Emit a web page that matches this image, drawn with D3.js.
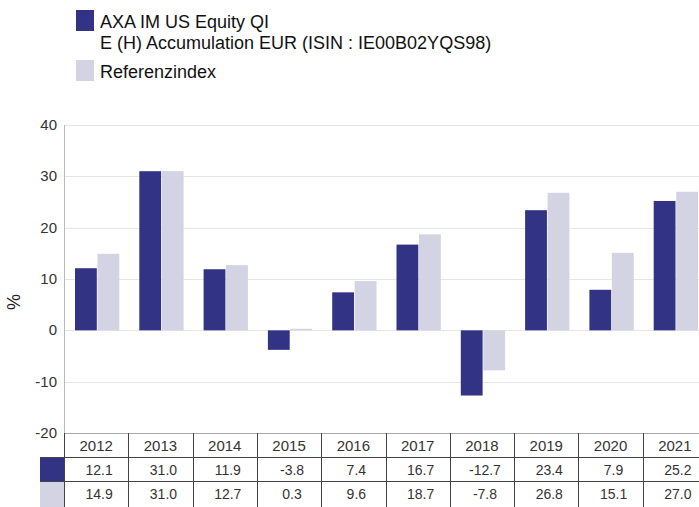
<!DOCTYPE html>
<html>
<head>
<meta charset="utf-8">
<script src="https://cdn.jsdelivr.net/npm/d3@7"></script>
<style>
  body { margin: 0; background: #fff; }
  svg { display: block; font-family: "Liberation Sans", Arial, sans-serif; }
</style>
</head>
<body>
<svg id="chart" width="699" height="507"></svg>
<script>
var years = ["2012", "2013", "2014", "2015", "2016", "2017", "2018", "2019", "2020", "2021"];
var fundValues = [12.1, 31.0, 11.9, -3.8, 7.4, 16.7, -12.7, 23.4, 7.9, 25.2];
var indexValues = [14.9, 31.0, 12.7, 0.3, 9.6, 18.7, -7.8, 26.8, 15.1, 27.0];
var yTicks = [40, 30, 20, 10, 0, -10, -20];
var seriesNames = ["AXA IM US Equity QI|E (H) Accumulation EUR (ISIN : IE00B02YQS98)", "Referenzindex"];

var colors = ["#333385", "#d3d3e3"];

var svg = d3.select("#chart");

var plotLeft = 64, colW = 64.3, plotTop = 125, plotBottom = 433;

var x = d3.scaleBand()
	.domain(years)
	.range([plotLeft, plotLeft + colW * years.length])
	.paddingInner(0)
	.paddingOuter(0);

var y = d3.scaleLinear()
	.domain([-20, 40])
	.range([plotBottom, plotTop]);

var inner = d3.scaleBand()
	.domain([0, 1])
	.range([11, x.bandwidth() - 9])
	.paddingInner(0.03);

// gridlines
svg.append("g")
	.selectAll("line")
	.data(yTicks)
	.join("line")
	.attr("x1", plotLeft)
	.attr("x2", 699)
	.attr("y1", d => Math.round(y(d)) + 0.5)
	.attr("y2", d => Math.round(y(d)) + 0.5)
	.attr("stroke", "#e6e6e6")
	.attr("stroke-width", 1);

// tick labels
svg.append("g")
	.selectAll("text")
	.data(yTicks)
	.join("text")
	.attr("x", 57)
	.attr("y", d => y(d) + 5)
	.attr("text-anchor", "end")
	.attr("font-size", 15)
	.attr("fill", "#333")
	.text(d => d);

svg.append("text")
	.attr("transform", "translate(20,302) rotate(-90)")
	.attr("text-anchor", "middle")
	.attr("font-size", 18)
	.attr("fill", "#222")
	.text("%");

// bars
var series = [fundValues, indexValues];
series.forEach(function(vals, s) {
	svg.append("g")
		.selectAll("rect")
		.data(vals)
		.join("rect")
		.attr("x", (d, i) => x(years[i]) + inner(s))
		.attr("width", inner.bandwidth())
		.attr("y", d => y(Math.max(0, d)))
		.attr("height", d => Math.abs(y(d) - y(0)))
		.attr("fill", colors[s]);
});

// vertical axis line
svg.append("line")
	.attr("x1", plotLeft + 0.5).attr("x2", plotLeft + 0.5)
	.attr("y1", plotTop).attr("y2", plotBottom)
	.attr("stroke", "#bbb");

// table
var rowTop = [433, 457, 481, 507];
var tbl = svg.append("g");

[0, 1].forEach(function(s) {
	tbl.append("rect")
		.attr("x", 40).attr("width", plotLeft - 40)
		.attr("y", rowTop[s + 1]).attr("height", rowTop[s + 2] - rowTop[s + 1])
		.attr("fill", colors[s]);
});

tbl.selectAll("text.year")
	.data(years)
	.join("text")
	.attr("class", "year")
	.attr("x", d => x(d) + x.bandwidth() / 2)
	.attr("y", 451)
	.attr("text-anchor", "middle")
	.attr("font-size", 15)
	.attr("fill", "#333")
	.text(d => d);

series.forEach(function(vals, s) {
	tbl.append("g")
		.selectAll("text")
		.data(vals)
		.join("text")
		.attr("x", (d, i) => x(years[i]) + x.bandwidth() / 2 + 3)
		.attr("y", rowTop[s + 1] + 18)
		.attr("text-anchor", "middle")
		.attr("font-size", 14)
		.attr("fill", "#333")
		.text(d => d.toFixed(1));
});

// table grid lines
tbl.append("line")
	.attr("x1", plotLeft).attr("x2", 699)
	.attr("y1", 433.5).attr("y2", 433.5)
	.attr("stroke", "#aaa");
[457, 481].forEach(function(r) {
	tbl.append("line")
		.attr("x1", 40).attr("x2", 699)
		.attr("y1", r + 0.5).attr("y2", r + 0.5)
		.attr("stroke", "#444");
});
tbl.selectAll("line.col")
	.data(years)
	.join("line")
	.attr("class", "col")
	.attr("x1", d => Math.round(x(d)) + 0.5)
	.attr("x2", d => Math.round(x(d)) + 0.5)
	.attr("y1", 433).attr("y2", 507)
	.attr("stroke", "#444");

// legend
var legend = svg.append("g");
seriesNames.forEach(function(name, s) {
	var yy = s == 0 ? 10 : 60;
	legend.append("rect")
		.attr("x", 76).attr("y", yy)
		.attr("width", 18).attr("height", 21)
		.attr("fill", colors[s]);
	name.split("|").forEach(function(line, j) {
		legend.append("text")
			.attr("x", 100)
			.attr("y", yy + 18 + j * 21)
			.attr("font-size", 18)
			.attr("fill", "#111")
			.text(line);
	});
});
</script>
</body>
</html>
